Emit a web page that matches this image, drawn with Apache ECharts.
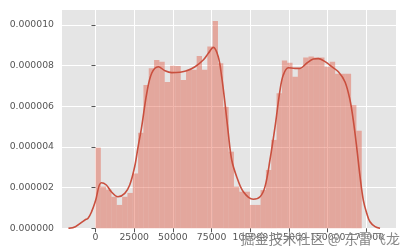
<!DOCTYPE html>
<html>
<head>
<meta charset="utf-8">
<script src="https://cdn.jsdelivr.net/npm/echarts@6/dist/echarts.min.js"></script>
<style>html,body{margin:0;padding:0;background:#fff;}#c{width:406px;height:252px;}</style>
</head>
<body>
<div id="c"></div>
<script>
// Histogram: bins start at 0, each binWidth wide; densities
const histStart = 0;
const binWidth = 3440;
const histDensity = [
  3.97e-6, 2.05e-6, 1.9e-6, 1.55e-6, 1.15e-6, 1.55e-6, 1.74e-6, 2.7e-6, 4.7e-6, 7.05e-6,
  7.87e-6, 8.28e-6, 8.2e-6, 7.2e-6, 8.0e-6, 7.98e-6, 7.3e-6, 7.8e-6, 7.8e-6, 8.48e-6,
  7.8e-6, 8.94e-6, 10.2e-6, 8.12e-6, 5.98e-6, 3.77e-6, 2.05e-6, 1.8e-6, 1.8e-6, 1.15e-6,
  1.15e-6, 1.88e-6, 2.87e-6, 4.35e-6, 6.64e-6, 8.25e-6, 8.15e-6, 7.46e-6, 7.87e-6, 8.4e-6,
  8.45e-6, 8.4e-6, 8.4e-6, 7.95e-6, 8.2e-6, 7.6e-6, 7.6e-6, 7.6e-6, 6.06e-6, 4.8e-6
];
// KDE curve points
const kdeX = [-17500, -13000, -6800, -4800, -2500, 0, 3700, 7000, 10200, 14500,
  18900, 22100, 25300, 27500, 29700, 33100, 36300, 40600, 44900, 49200,
  54600, 58900, 64300, 69600, 72900, 76100, 79300, 81500, 83700, 85800,
  88000, 91200, 95500, 101900, 106300, 109500, 112700, 116000, 119200, 121300,
  124500, 128900, 132100, 136400, 140700, 143900, 148300, 152600, 156900, 161200,
  164400, 166500, 168700, 170900, 173000, 175200, 177300, 180600, 183800];
const kdeY = [0, 0.08e-6, 0.41e-6, 0.49e-6, 0.82e-6, 1.35e-6, 2.24e-6, 2.13e-6, 1.8e-6, 1.55e-6,
  1.72e-6, 2.13e-6, 3.03e-6, 4.01e-6, 4.93e-6, 6.64e-6, 7.63e-6, 7.95e-6, 7.75e-6, 7.66e-6,
  7.68e-6, 7.75e-6, 7.95e-6, 8.28e-6, 8.61e-6, 8.9e-6, 8.44e-6, 7.46e-6, 6.12e-6, 4.67e-6,
  3.36e-6, 2.54e-6, 1.8e-6, 1.43e-6, 1.55e-6, 2.05e-6, 3.36e-6, 5.0e-6, 6.8e-6, 7.54e-6,
  7.9e-6, 7.87e-6, 7.87e-6, 8.12e-6, 8.33e-6, 8.35e-6, 8.2e-6, 7.95e-6, 7.7e-6, 7.2e-6,
  6.31e-6, 5.33e-6, 4.01e-6, 2.54e-6, 1.39e-6, 0.74e-6, 0.32e-6, 0.08e-6, 0];
const xTicks = [0, 25000, 50000, 75000, 100000, 125000, 150000, 175000];
const yTicks = [0, 0.000002, 0.000004, 0.000006, 0.000008, 0.000010];
const watermark = '掘金技术社区 @ 东雷飞龙';

const histData = histDensity.map((d, i) => [histStart + i * binWidth, histStart + (i + 1) * binWidth, d]);
const kdeData = kdeX.map((x, i) => [x, kdeY[i]]);

const chart = echarts.init(document.getElementById('c'), null, {renderer: 'canvas'});
const font = 'DejaVu Sans';
chart.setOption({
  animation: false,
  grid: {left: 62, top: 10, right: 10, bottom: 23.7, show: true, backgroundColor: '#E5E5E5', borderWidth: 0},
  xAxis: {
    type: 'value', min: -21640, max: 194120,
    axisLine: {show: false},
    axisTick: {show: true, length: 4, lineStyle: {color: '#555'}, customValues: xTicks},
    axisLabel: {customValues: xTicks, color: '#555', fontSize: 9.3, fontFamily: font, margin: 5,
      formatter: v => String(Math.round(v))},
    splitLine: {show: true, lineStyle: {color: '#fff', width: 1}}
  },
  yAxis: {
    type: 'value', min: 0, max: 1.074e-5,
    axisLine: {show: false},
    axisTick: {show: true, length: 4, lineStyle: {color: '#555'}, customValues: yTicks},
    axisLabel: {customValues: yTicks, color: '#555', fontSize: 9.3, fontFamily: font, margin: 8,
      formatter: v => v.toFixed(6)},
    splitLine: {show: true, lineStyle: {color: '#fff', width: 1}}
  },
  series: [
    {
      type: 'custom',
      data: histData,
      encode: {x: [0, 1], y: 2},
      renderItem: function (params, api) {
        const p0 = api.coord([api.value(0), 0]);
        const p1 = api.coord([api.value(1), api.value(2)]);
        return {
          type: 'rect',
          shape: {x: p0[0], y: p1[1], width: p1[0] - p0[0], height: p0[1] - p1[1]},
          style: {fill: 'rgba(226,74,51,0.4)'}
        };
      },
      z: 2
    },
    {
      type: 'line',
      data: kdeData,
      smooth: 0.35,
      showSymbol: false,
      lineStyle: {color: '#C94F3E', width: 1.6},
      z: 3
    }
  ],
  graphic: [{
    type: 'text', left: 240, top: 231, z: 100,
    style: {text: watermark, font: '14px "Noto Sans CJK SC"', fill: 'rgba(85,85,85,0.7)',
      stroke: 'rgba(255,255,255,0.5)', lineWidth: 1}
  }]
});
</script>
</body>
</html>
